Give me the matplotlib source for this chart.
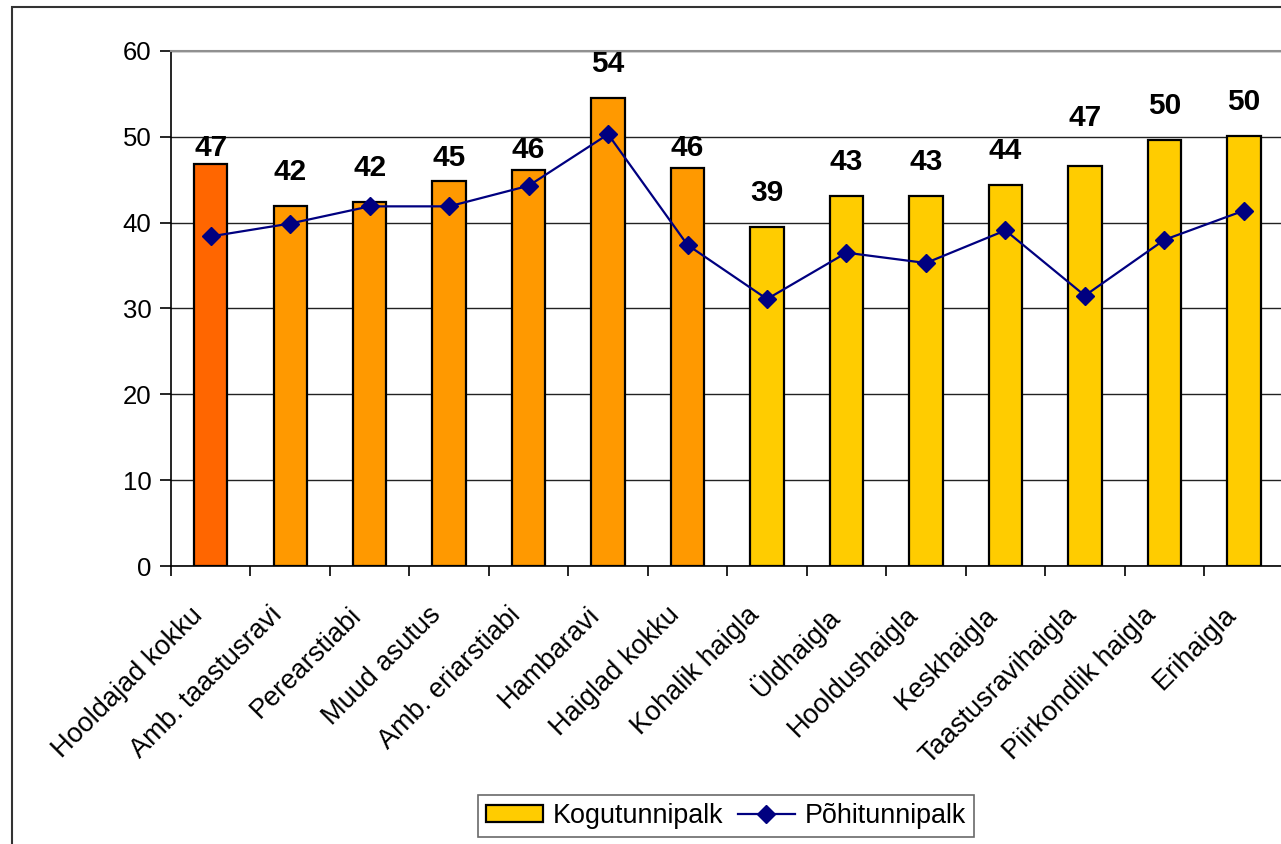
import matplotlib
matplotlib.use("Agg")
import matplotlib.pyplot as plt
from matplotlib.patches import Rectangle, Patch
from matplotlib.lines import Line2D
import matplotlib.transforms as mtransforms
import numpy as np

categories = ["Hooldajad kokku", "Amb. taastusravi", "Perearstiabi", "Muud asutus",
              "Amb. eriarstiabi", "Hambaravi", "Haiglad kokku", "Kohalik haigla",
              "Üldhaigla", "Hooldushaigla", "Keskhaigla", "Taastusravihaigla",
              "Piirkondlik haigla", "Erihaigla"]
kogutunnipalk = [46.8, 41.9, 42.4, 44.9, 46.1, 54.5, 46.4, 39.5, 43.1, 43.1, 44.4, 46.6, 49.6, 50.1]
pohitunnipalk = [38.4, 39.9, 41.9, 41.9, 44.3, 50.3, 37.4, 31.1, 36.5, 35.3, 39.1, 31.5, 38.0, 41.4]
bar_labels = ["47", "42", "42", "45", "46", "54", "46", "39", "43", "43", "44", "47", "50", "50"]
groups = ["total", "amb", "amb", "amb", "amb", "amb", "amb",
          "hosp", "hosp", "hosp", "hosp", "hosp", "hosp", "hosp"]
yticks = [0, 10, 20, 30, 40, 50, 60]

group_colors = {"total": "#FF6600", "amb": "#FF9900", "hosp": "#FFCC00"}
plt.rcParams['font.family'] = ['Liberation Sans', 'DejaVu Sans']

fig = plt.figure(figsize=(12.81, 8.44), dpi=100)
fig.patch.set_facecolor("white")
# outer chart border
fig.patches.append(Rectangle((12 / 1281, -0.05), 1.2, 1 - 7 / 844 + 0.05,
                             transform=fig.transFigure, fill=False,
                             edgecolor="#333333", linewidth=1.5, zorder=0))

ax = fig.add_axes([171 / 1281, 1 - 566 / 844, 1 - 171 / 1281 + 0.002, (566 - 51) / 844])
x = np.arange(len(categories))
colors = [group_colors[g] for g in groups]
ax.bar(x, kogutunnipalk, width=0.42, color=colors, edgecolor="black", linewidth=1.6, zorder=3)
ax.plot(x, pohitunnipalk, color="#000080", linewidth=1.6, marker="D", markersize=9.5,
        markerfacecolor="#000080", markeredgecolor="#000080", zorder=4)

label_shift = [-2.1, 0, 0, -1.4, -1.6, 0, -1.7, 0, 0, 0, 0, 1.6, 0, 0]
for xi, v, lab, sh in zip(x, kogutunnipalk, bar_labels, label_shift):
    ax.text(xi, v + 4.0 + sh, lab, ha="center", va="center", fontsize=21.5,
            fontweight="bold", color="black", zorder=5)

ax.set_xlim(-0.5, len(categories) - 0.5)
ax.set_ylim(0, 60)
ax.set_yticks(yticks)
ax.set_yticklabels([str(t) for t in yticks], fontsize=18.5)
ax.yaxis.grid(True, color="#222222", linewidth=1.0, zorder=0)
ax.set_axisbelow(True)
ax.tick_params(axis="y", direction="out", length=8, width=1.2, pad=6)

ax.set_xticks(np.arange(-0.5, len(categories), 1.0))
ax.set_xticklabels([])
ax.tick_params(axis="x", which="major", direction="out", length=7, width=1.2)
ax.set_xticks(x, minor=True)
ax.set_xticklabels(categories, minor=True, rotation=45, ha="right", va="top",
                   rotation_mode="anchor", fontsize=19.5)
ax.tick_params(axis="x", which="minor", length=0, pad=26)
offset = mtransforms.ScaledTranslation(-21 / 100, 0, fig.dpi_scale_trans)
for lbl in ax.xaxis.get_minorticklabels():
    lbl.set_transform(lbl.get_transform() + offset)

ax.spines["left"].set_color("black")
ax.spines["left"].set_linewidth(1.2)
ax.spines["bottom"].set_color("black")
ax.spines["bottom"].set_linewidth(1.2)
ax.spines["top"].set_color("#909090")
ax.spines["top"].set_linewidth(1.5)
ax.spines["right"].set_visible(False)

handles = [Patch(facecolor="#FFCC00", edgecolor="black", linewidth=1.6, label="Kogutunnipalk"),
           Line2D([0], [0], color="#000080", linewidth=1.6, marker="D", markersize=9.5,
                  label="Põhitunnipalk")]
leg = fig.legend(handles=handles, loc="center", bbox_to_anchor=(726 / 1281, 1 - 816 / 844),
                 ncol=2, fontsize=19.4, frameon=True, fancybox=False, edgecolor="#444444",
                 handlelength=2.1, handleheight=0.55, handletextpad=0.37, columnspacing=0.55,
                 borderpad=0.3, borderaxespad=0)
leg.get_frame().set_linewidth(1.2)

fig.savefig("out.png", dpi=100)
